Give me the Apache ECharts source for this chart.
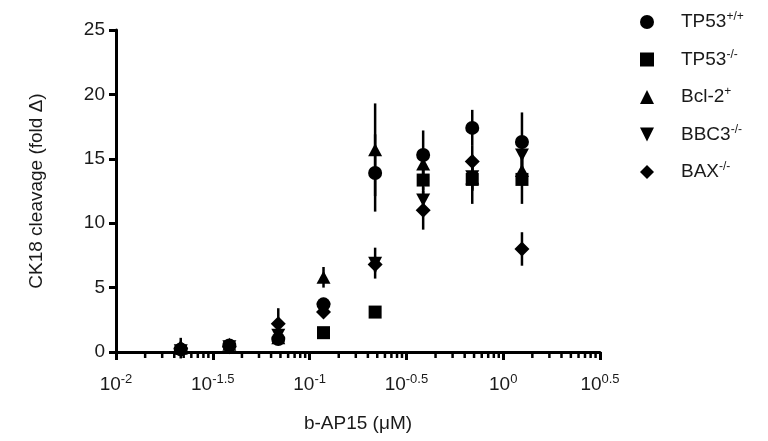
<!DOCTYPE html>
<html><head><meta charset="utf-8">
<script src="https://cdn.jsdelivr.net/npm/echarts@6/dist/echarts.min.js"></script>
<style>html,body{margin:0;padding:0;background:#fff}#c{width:768px;height:441px}</style>
</head><body><div id="c"></div>
<script>
// doses in µM
const doses = [0.0216, 0.0385, 0.0689, 0.118, 0.218, 0.386, 0.692, 1.25];
const seriesBase = ['TP53', 'TP53', 'Bcl-2', 'BBC3', 'BAX'];
const seriesSup = ['+/+', '-/-', '+', '-/-', '-/-'];
const tp53wt = [0.2, 0.5, 1.0, 3.7, 13.9, 15.3, 17.4, 16.3];
const tp53wtErr = [0.3, 0.3, 0.3, 0.5, 3.0, 1.9, 1.4, 2.3];
const tp53ko = [null, null, null, 1.5, 3.1, 13.35, 13.4, 13.4];
const tp53koErr = [0, 0, 0, 0.2, 0.2, 0.8, 1.9, 1.9];
const bcl2 = [0.3, 0.6, 1.1, 5.8, 15.7, 14.6, 13.5, 14.1];
const bcl2Err = [0.8, 0.3, 0.3, 0.8, 3.6, 1.0, 1.0, 1.0];
const bbc3 = [0.1, 0.4, 1.3, 3.3, 6.9, 11.8, 13.6, 15.3];
const bbc3Err = [0.3, 0.2, 0.3, 0.4, 1.2, 1.0, 1.0, 1.2];
const bax = [0.3, 0.4, 2.2, 3.1, 6.8, 11.0, 14.8, 8.0];
const baxErr = [0.5, 0.3, 1.2, 0.4, 0.6, 1.5, 1.2, 1.3];
const xTickExponents = [-2, -1.5, -1, -0.5, 0, 0.5];
const yTicks = [0, 5, 10, 15, 20, 25];

const values = [tp53wt, tp53ko, bcl2, bbc3, bax];
const errors = [tp53wtErr, tp53koErr, bcl2Err, bbc3Err, baxErr];
const symbols = ['circle', 'rect', 'triangle', 'path://M0,0 L10,0 L5,10 Z', 'diamond'];
const sizes = [14, 13, [14, 13], [14, 13], [15, 15]];
const drawOrder = [2, 3, 4, 1, 0];
const names = seriesBase.map((b, i) => b + seriesSup[i]);
const FONT = '"Liberation Sans", Arial, Helvetica, sans-serif';
const TXT = '#1a1a1a';

// minor tick positions: log-style subdivision of each half-decade interval
const minorTicks = [];
for (let i = 0; i < xTickExponents.length - 1; i++) {
  const a = xTickExponents[i], w = xTickExponents[i + 1] - a;
  for (let k = 2; k <= 9; k++) minorTicks.push(a + w * Math.log10(k));
}

const lx = doses.map(d => Math.log10(d));
const series = [];
// minor ticks of the x axis (axis decoration)
series.push({
  type: 'custom', name: 'minorTicks', silent: true, z: 5, clip: false,
  data: minorTicks.map(v => [v, 0]),
  renderItem: function (params, api) {
    const p = api.coord([api.value(0), 0]);
    return { type: 'line', shape: { x1: p[0], y1: p[1], x2: p[0], y2: p[1] + 6 },
      style: { stroke: '#000', lineWidth: 2.5 } };
  }
});
drawOrder.forEach(si => {
  const vals = values[si];
  const errData = [];
  const ptData = [];
  vals.forEach((v, i) => {
    if (v === null) return;
    errData.push([lx[i], v, errors[si][i]]);
    ptData.push([lx[i], v]);
  });
  series.push({
    type: 'custom', name: names[si] + '_err', z: 2, clip: false,
    silent: true, data: errData,
    renderItem: function (params, api) {
      const x = api.value(0), y = api.value(1), e = api.value(2);
      const p1 = api.coord([x, y - e]), p2 = api.coord([x, y + e]);
      return { type: 'line', shape: { x1: p1[0], y1: p1[1], x2: p2[0], y2: p2[1] },
        style: { stroke: '#000', lineWidth: 2.5 } };
    }
  });
  series.push({
    type: 'scatter', name: names[si], z: 3,
    symbol: symbols[si], symbolSize: sizes[si],
    itemStyle: { color: '#000', opacity: 1 },
    data: ptData
  });
});

const chart = echarts.init(document.getElementById('c'));
chart.setOption({
  animation: false,
  backgroundColor: '#fff',
  textStyle: { fontFamily: FONT },
  grid: { left: 116, right: 168, top: 30, bottom: 89 },
  legend: {
    data: names, orient: 'vertical', left: 635, top: 6,
    itemWidth: 14, itemHeight: 14, itemGap: 17,
    formatter: function (n) {
      const i = names.indexOf(n);
      return '{b|' + seriesBase[i] + '}{s|' + seriesSup[i] + '}';
    },
    textStyle: {
      rich: {
        b: { fontSize: 19, color: TXT, fontFamily: FONT, padding: [0, 0, 0, 22] },
        s: { fontSize: 12, color: TXT, fontFamily: FONT, padding: [0, 0, 10, 0] }
      }
    }
  },
  xAxis: {
    type: 'value', min: xTickExponents[0], max: xTickExponents[xTickExponents.length - 1], interval: 0.5,
    position: 'bottom',
    name: 'b-AP15 (μM)', nameLocation: 'middle', nameGap: 62,
    nameTextStyle: { fontSize: 19, color: TXT, fontFamily: FONT },
    axisLine: { show: true, onZero: false, lineStyle: { color: '#000', width: 3 } },
    axisTick: { show: true, length: 8, lineStyle: { color: '#000', width: 3 } },
    axisLabel: {
      margin: 21,
      formatter: function (v) { return '{b|10}{s|' + String(v) + '}'; },
      rich: {
        b: { fontSize: 19, color: TXT, fontFamily: FONT },
        s: { fontSize: 13, color: TXT, fontFamily: FONT, padding: [0, 0, 11, 0] }
      }
    },
    splitLine: { show: false }
  },
  yAxis: {
    type: 'value', min: yTicks[0], max: yTicks[yTicks.length - 1], interval: 5,
    name: 'CK18 cleavage (fold Δ)', nameLocation: 'middle', nameGap: 70,
    nameTextStyle: { fontSize: 19, color: TXT, fontFamily: FONT },
    axisLine: { show: true, onZero: false, lineStyle: { color: '#000', width: 3 } },
    axisTick: { show: true, length: 7, lineStyle: { color: '#000', width: 3 } },
    axisLabel: { fontSize: 19, color: TXT, margin: 11, fontFamily: FONT },
    splitLine: { show: false }
  },
  series: series
});
</script></body></html>
